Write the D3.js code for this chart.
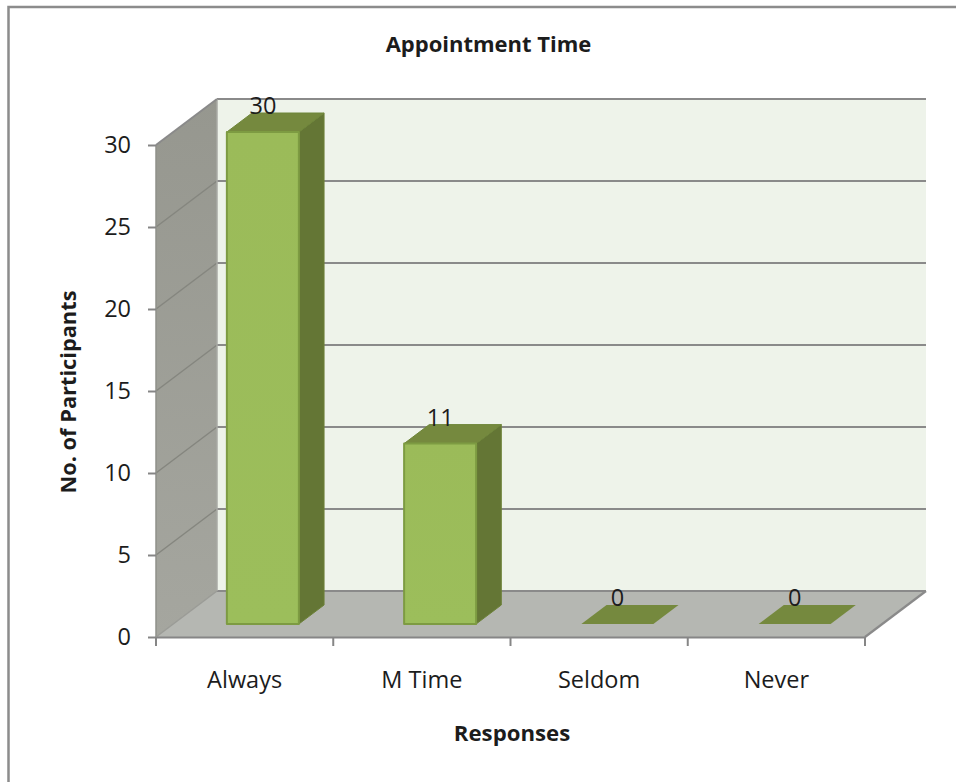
<!DOCTYPE html>
<html><head><meta charset="utf-8">
<script src="https://cdn.jsdelivr.net/npm/d3@7"></script>
<style>html,body{margin:0;padding:0;background:#fff}svg{display:block}text{font-family:"Open Sans",sans-serif;fill:#1c1c1c}</style>
</head><body><svg id="c" width="956" height="782"></svg>
<script>
const categories = ["Always","M Time","Seldom","Never"];
const participants = [30,11,0,0];
const yTicks = [0,5,10,15,20,25,30];
const titleText = "Appointment Time";
const xTitle = "Responses";
const yTitle = "No. of Participants";

const svg = d3.select("#c");
const x = d3.scaleBand().domain(categories).range([156,865]);
const y = d3.scaleLinear().domain([0,30]).range([637,145]);
const DX = 61, DY = -46;
const P = (px,py,t)=>[px+DX*t, py+DY*t];
const poly = (pts,fill,stroke,sw)=>svg.append("polygon").attr("points",pts.map(p=>p.join(",")).join(" "))
  .attr("fill",fill).attr("stroke",stroke||"none").attr("stroke-width",sw||0).attr("stroke-linejoin","round");
const line = (a,b,c,w)=>svg.append("line").attr("x1",a[0]).attr("y1",a[1]).attr("x2",b[0]).attr("y2",b[1]).attr("stroke",c).attr("stroke-width",w);

// frame
svg.append("path").attr("d","M956,7 H8.5 V782").attr("fill","none").attr("stroke","#8c8c8c").attr("stroke-width",2.5);

const [x0,x1] = x.range(), yb = y(0), yt = y(30);
// back wall
poly([P(x0,yb,1),P(x1,yb,1),P(x1,yt,1),P(x0,yt,1)],"#eef3ea");
// side wall
const sideG = svg.append("defs").append("linearGradient").attr("id","side").attr("x1",0).attr("x2",0).attr("y1",0).attr("y2",1);
sideG.append("stop").attr("offset",0).attr("stop-color","#96978f");
sideG.append("stop").attr("offset",1).attr("stop-color","#a5a69f");
poly([P(x0,yb,0),P(x0,yb,1),P(x0,yt,1),P(x0,yt,0)],"url(#side)");
// floor
poly([P(x0,yb,0),P(x1,yb,0),P(x1,yb,1),P(x0,yb,1)],"#b5b7b2");

// gridlines
const gridC = "#8a8a8a";
yTicks.forEach(v=>{
  const a=P(x0,y(v),0), b=P(x0,y(v),1), c=P(x1,y(v),1);
  if(v>0 && v<30) line(a,b,"#85867f",1.5);
  line(b,c,gridC,2.2);
});
line(P(x0,yb,1),P(x0,yt,1),"#a9aaa5",1.5);
line(P(x0,yb,0),P(x0,yt,0),"#8f908a",1.5);
line(P(x0,yb,0),P(x0,yb,1),"#9a9b96",1.5);
line(P(x0,yt,0),P(x0,yt,1),"#8a8a8a",2);
line(P(x1,yb,0),P(x1,yb,1),gridC,2.2);

// axes
const xAxis = svg.append("g").attr("transform",`translate(0,${yb})`)
  .call(d3.axisBottom(x).tickValues([]).tickSize(0));
xAxis.select(".domain").attr("stroke","#868686").attr("stroke-width",2.2);
[0,1,2,3,4].forEach(i=>line([x0+i*x.step(),yb],[x0+i*x.step(),yb+9],"#868686",2));
svg.selectAll(".xl").data(categories).join("text").attr("class","xl")
  .attr("x",d=>x(d)+x.bandwidth()/2).attr("y",688).attr("text-anchor","middle").attr("font-size",23.5).text(d=>d);

const yAxis = svg.append("g").attr("transform",`translate(${x0},0)`)
  .call(d3.axisLeft(y).tickValues(yTicks).tickSize(8).tickPadding(17).tickFormat(d3.format("d")));
yAxis.select(".domain").remove();
yAxis.selectAll("line").attr("stroke","#868686").attr("stroke-width",2);
yAxis.selectAll("text").attr("font-size",23.5).attr("font-family",'"Open Sans",sans-serif').attr("fill","#1c1c1c");

// bars
const barW = 72, t0 = 13/46, t1 = 32/46;
const grad = svg.select("defs").append("linearGradient").attr("id","front").attr("x1",0).attr("x2",0).attr("y1",0).attr("y2",1);
grad.append("stop").attr("offset",0).attr("stop-color","#9bbb59");
grad.append("stop").attr("offset",1).attr("stop-color","#9cbe5b");
categories.forEach((c,i)=>{
  const v = participants[i];
  const cx = x(c)+x.bandwidth()/2 + 1;
  const l = cx-barW/2, r = cx+barW/2;
  const top = y(v), bot = yb;
  const q = (px,py,t)=>P(px,py,t);
  if(v>0){
    poly([q(r,bot,t0),q(r,bot,t1),q(r,top,t1),q(r,top,t0)],"#647635","#6d8239",1);
    poly([q(l,top,t0),q(r,top,t0),q(r,top,t1),q(l,top,t1)],"#75893e","#6f863a",1);
    poly([q(l,bot,t0),q(r,bot,t0),q(r,top,t0),q(l,top,t0)],"url(#front)","#7d9b42",2);
  } else {
    poly([q(l,bot,t0),q(r,bot,t0),q(r,bot,t1),q(l,bot,t1)],"#75893e");
  }
  const lab = q(cx,top,t1);
  svg.append("text").attr("x",lab[0]-25).attr("y",lab[1]+1).attr("text-anchor","middle").attr("font-size",23.5).text(v);
});

// titles
svg.append("text").attr("x",488.5).attr("y",52).attr("text-anchor","middle").attr("font-size",22).attr("font-weight",700).text(titleText);
svg.append("text").attr("x",512).attr("y",741).attr("text-anchor","middle").attr("font-size",22.2).attr("font-weight",700).text(xTitle);
svg.append("text").attr("transform","translate(76,392) rotate(-90)").attr("text-anchor","middle").attr("font-size",21.8).attr("font-weight",700).text(yTitle);
</script></body></html>
